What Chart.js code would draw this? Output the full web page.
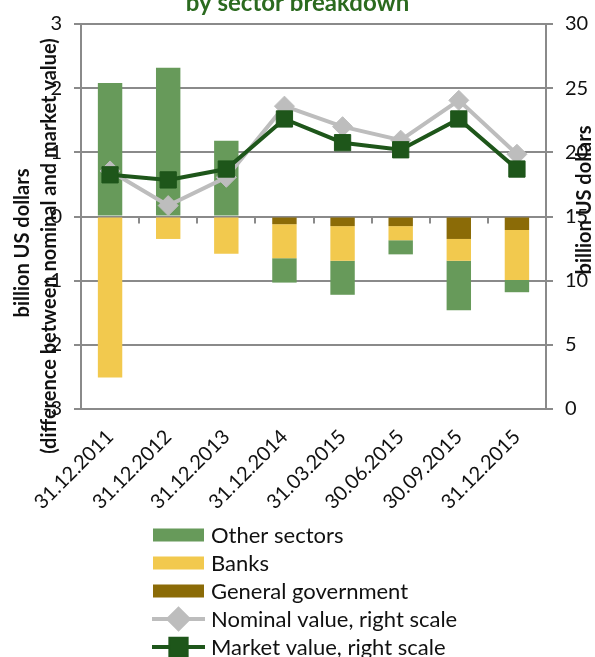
<!DOCTYPE html>
<html>
<head>
<meta charset="utf-8">
<script src="https://cdn.jsdelivr.net/npm/chart.js@4"></script>
<style>
  html, body { margin: 0; padding: 0; background: #fff; }
  #wrap { width: 595px; height: 657px; }
</style>
</head>
<body>
<div id="wrap"><canvas id="mychart" width="595" height="657"></canvas></div>
<script>
// categories
let labels = ['31.12.2011', '31.12.2012', '31.12.2013', '31.12.2014', '31.03.2015', '30.06.2015', '30.09.2015', '31.12.2015']

// bars, left scale (billion US dollars)
let otherSectors = [2.08, 2.32, 1.18, -0.38, -0.53, -0.22, -0.77, -0.19]
let banks = [-2.51, -0.35, -0.58, -0.53, -0.54, -0.22, -0.34, -0.78]
let generalGov = [0, 0, 0, -0.12, -0.15, -0.15, -0.35, -0.21]

// lines, right scale
let nominalValue = [18.55, 15.85, 18.05, 23.6, 22.0, 20.95, 24.05, 19.85]
let marketValue = [18.25, 17.85, 18.7, 22.6, 20.75, 20.2, 22.6, 18.7]

let leftTicks = [-3, -2, -1, 0, 1, 2, 3]
let rightTicks = [0, 5, 10, 15, 20, 25, 30]

let fontName = 'Lato'
let gridColor = '#8a8a8a'
let textColor = '#111111'

// extra bits: axis titles, small ticks on the zero line, legend list
let extras = {
    id: 'extras',
    beforeDatasetsDraw(chart) {
        let ctx = chart.ctx
        let x = chart.scales.x
        let y = chart.scales.y
        let y0 = y.getPixelForValue(0)
        ctx.save()
        ctx.strokeStyle = gridColor
        ctx.lineWidth = 2
        for (let k = 1; k < labels.length; k++) {
            let px = Math.round(x.getPixelForValue(k - 0.5))
            ctx.beginPath()
            ctx.moveTo(px, y0)
            ctx.lineTo(px, y0 + 7)
            ctx.stroke()
        }
        ctx.restore()
    },
    afterDraw(chart) {
        let ctx = chart.ctx
        ctx.save()
        ctx.fillStyle = textColor
        ctx.font = 'bold 20px ' + fontName
        ctx.textAlign = 'center'
        ctx.textBaseline = 'middle'

        // left axis title, two lines
        ctx.save()
        ctx.translate(23, 243)
        ctx.rotate(-Math.PI / 2)
        ctx.fillText('billion US dollars', 0, 0)
        ctx.restore()
        ctx.save()
        ctx.translate(50, 246)
        ctx.rotate(-Math.PI / 2)
        ctx.fillText('(difference between nominal and market value)', 0, 0)
        ctx.restore()

        // right axis title
        ctx.save()
        ctx.translate(585, 200)
        ctx.rotate(-Math.PI / 2)
        ctx.fillText('billion US dollars', 0, 0)
        ctx.restore()

        // legend, one item per row
        let order = [4, 3, 2, 1, 0]
        let top = chart.height - 122
        ctx.font = '22px ' + fontName
        ctx.textAlign = 'left'
        order.forEach(function(idx, i) {
            let ds = chart.data.datasets[idx]
            let cy = top + i * 28
            if (ds.type === 'line') {
                ctx.strokeStyle = ds.borderColor
                ctx.lineWidth = 4
                ctx.beginPath()
                ctx.moveTo(152, cy)
                ctx.lineTo(205, cy)
                ctx.stroke()
                Chart.helpers.drawPoint(ctx, {
                    pointStyle: ds.pointStyle,
                    radius: ds.pointRadius,
                    borderWidth: 1
                }, 178.5, cy)
                ctx.fillStyle = ds.pointBackgroundColor
                ctx.fill()
            } else {
                ctx.fillStyle = ds.backgroundColor
                ctx.fillRect(153, cy - 6.5, 51, 13)
            }
            ctx.fillStyle = textColor
            ctx.fillText(ds.label, 211, cy + 1)
        })
        ctx.restore()
    }
}

function fun_chart() {
    let ctx = document.getElementById('mychart').getContext('2d')
    let mychart = new Chart(ctx, {
        data: {
            labels: labels,
            datasets: [
                {
                    type: 'line',
                    label: 'Market value, right scale',
                    data: marketValue,
                    yAxisID: 'y1',
                    borderColor: '#1e561a',
                    backgroundColor: '#1e561a',
                    pointBackgroundColor: '#1e561a',
                    pointBorderColor: '#1e561a',
                    borderWidth: 4,
                    pointStyle: 'rect',
                    pointRadius: 11.5,
                    pointBorderWidth: 1,
                    tension: 0
                },
                {
                    type: 'line',
                    label: 'Nominal value, right scale',
                    data: nominalValue,
                    yAxisID: 'y1',
                    borderColor: '#bdbdbd',
                    backgroundColor: '#bdbdbd',
                    pointBackgroundColor: '#bdbdbd',
                    pointBorderColor: '#bdbdbd',
                    borderWidth: 4,
                    pointStyle: 'rectRot',
                    pointRadius: 10,
                    pointBorderWidth: 1,
                    tension: 0
                },
                {
                    type: 'bar',
                    label: 'General government',
                    data: generalGov,
                    yAxisID: 'y',
                    backgroundColor: '#8b6b07'
                },
                {
                    type: 'bar',
                    label: 'Banks',
                    data: banks,
                    yAxisID: 'y',
                    backgroundColor: '#f2c94e'
                },
                {
                    type: 'bar',
                    label: 'Other sectors',
                    data: otherSectors,
                    yAxisID: 'y',
                    backgroundColor: '#679a5a'
                }
            ]
        },
        options: {
            responsive: false,
            animation: false,
            events: [],
            datasets: {
                bar: { categoryPercentage: 1, barPercentage: 0.42 }
            },
            layout: { padding: { top: 0, left: 0, right: 0, bottom: 140 } },
            plugins: {
                legend: { display: false },
                tooltip: { enabled: false },
                title: {
                    display: true,
                    text: 'by sector breakdown',
                    color: '#2b6a1f',
                    font: { family: fontName, size: 24, weight: 'bold', lineHeight: 1.2 },
                    padding: { top: -12.5, bottom: 6.4 }
                }
            },
            scales: {
                x: {
                    stacked: true,
                    offset: true,
                    grid: { display: false },
                    border: { display: false },
                    ticks: {
                        autoSkip: false,
                        maxRotation: 45,
                        minRotation: 45,
                        padding: 8,
                        color: textColor,
                        font: { family: fontName, size: 20 }
                    },
                    afterFit: function(scale) { scale.height = 108 }
                },
                y: {
                    position: 'left',
                    stacked: true,
                    min: -3,
                    max: 3,
                    afterBuildTicks: function(scale) {
                        scale.ticks = leftTicks.map(function(v) { return { value: v } })
                    },
                    grid: { color: gridColor, lineWidth: 2, tickLength: 7 },
                    border: { color: gridColor, width: 2 },
                    ticks: {
                        padding: 12,
                        color: textColor,
                        font: { family: fontName, size: 20 }
                    },
                    afterFit: function(scale) { scale.width = 81 }
                },
                y1: {
                    position: 'right',
                    min: 0,
                    max: 30,
                    afterBuildTicks: function(scale) {
                        scale.ticks = rightTicks.map(function(v) { return { value: v } })
                    },
                    grid: { drawOnChartArea: false, color: gridColor, lineWidth: 2, tickLength: 7 },
                    border: { color: gridColor, width: 2 },
                    ticks: {
                        padding: 12,
                        color: textColor,
                        font: { family: fontName, size: 20 }
                    },
                    afterFit: function(scale) { scale.width = 49 }
                }
            }
        },
        plugins: [extras]
    })
}

document.addEventListener('DOMContentLoaded', function() {
    fun_chart()
})
</script>
</body>
</html>
